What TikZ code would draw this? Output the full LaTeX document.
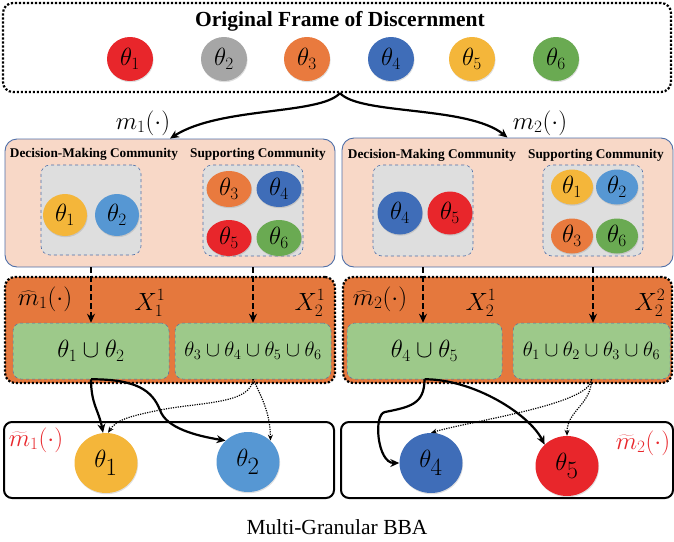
\documentclass[tikz,border=0pt]{standalone}
\usepackage{fontspec}
\setmainfont{Liberation Serif}
\usetikzlibrary{shapes.geometric,shadows,arrows.meta}

\definecolor{cRed}{HTML}{E8262B}
\definecolor{cGray}{HTML}{A6A6A6}
\definecolor{cOrange}{HTML}{E97A3E}
\definecolor{cBlue}{HTML}{3F6DB8}
\definecolor{cLblue}{HTML}{5697D3}
\definecolor{cYellow}{HTML}{F4B63A}
\definecolor{cGreen}{HTML}{6AAA52}
\definecolor{cPanel}{HTML}{F8D8C7}
\definecolor{cEdge}{HTML}{4F6FA8}
\definecolor{cComm}{HTML}{DEDEDE}
\definecolor{cBand}{HTML}{E5783D}
\definecolor{cGran}{HTML}{9DC98A}

\begin{document}
\begin{tikzpicture}[x=1pt,y=-1pt,
	elem/.style={ellipse,fill=#1,inner sep=0pt,
		drop shadow={opacity=0.25,shadow xshift=0.6pt,shadow yshift=-1.2pt}},
	frame/.style={draw,rectangle,rounded corners=10pt,line width=2.2pt,
		dash pattern=on 2.2pt off 1.8pt},
	panel/.style={draw=cEdge,fill=cPanel,rectangle,rounded corners=12pt,line width=0.9pt},
	comm/.style={draw=cEdge,fill=cComm,rectangle,rounded corners=9pt,dashed,line width=0.6pt},
	band/.style={frame,fill=cBand},
	gran/.style={draw=cEdge,fill=cGran,rectangle,rounded corners=8pt,dashed,line width=0.5pt},
	result/.style={draw,rectangle,rounded corners=8pt,line width=2pt},
	ctitle/.style={font=\bfseries\fontsize{13.3}{15}\selectfont},
	flow/.style={line width=2.2pt,-{Stealth[length=9pt,width=8pt]}},
	feed/.style={line width=2.4pt,dash pattern=on 6pt off 3pt,-{Stealth[length=9pt,width=8pt]}},
	weak/.style={line width=1.2pt,dash pattern=on 1.2pt off 1.2pt,-{Stealth[length=6pt,width=5pt]}}]
	\useasboundingbox (0,0) rectangle (674,541);
	
	% frame of discernment
	\node[frame,minimum width=668pt,minimum height=89pt] (frame) at (337,47.5) {};
	\node[font=\bfseries\fontsize{21.5}{24}\selectfont] (ftitle) at (340,21) {Original Frame of Discernment};
	\begin{scope}[every node/.append style={minimum width=46pt,minimum height=44pt,font=\fontsize{24}{26}\selectfont}]
		\node[elem=cRed] (t1) at (130,59) {$\theta_1$};
		\node[elem=cGray] (t2) at (224,59) {$\theta_2$};
		\node[elem=cOrange] (t3) at (307,59) {$\theta_3$};
		\node[elem=cBlue] (t4) at (391,59) {$\theta_4$};
		\node[elem=cYellow] (t5) at (472,59) {$\theta_5$};
		\node[elem=cGreen] (t6) at (556,59) {$\theta_6$};
	\end{scope}
	
	% two sources
	\node[panel,minimum width=330pt,minimum height=128pt] (panelL) at (170,203) {};
	\node[panel,minimum width=331pt,minimum height=129pt] (panelR) at (507.5,202.5) {};
	\node[ctitle] (dmtxtL) at (94,154) {Decision-Making Community};
	\node[ctitle] (sptxtL) at (258,154) {Supporting Community};
	\node[ctitle] (dmtxtR) at (432,155) {Decision-Making Community};
	\node[ctitle] (sptxtR) at (596,155) {Supporting Community};
	\node[comm,minimum width=100pt,minimum height=90pt] (dmL) at (91,210) {};
	\node[comm,minimum width=100pt,minimum height=91pt] (spL) at (253,210.5) {};
	\node[comm,minimum width=100pt,minimum height=91pt] (dmR) at (423,210.5) {};
	\node[comm,minimum width=100pt,minimum height=91pt] (spR) at (593,210.5) {};
	\begin{scope}[every node/.append style={font=\fontsize{27}{29}\selectfont}]
		\node[elem=cYellow,minimum width=44pt,minimum height=42pt] (aL1) at (65,215) {$\theta_1$};
		\node[elem=cLblue,minimum width=44pt,minimum height=42pt] (aL2) at (117,215) {$\theta_2$};
		\node[elem=cOrange,minimum width=45pt,minimum height=36pt] (sL3) at (229,189) {$\theta_3$};
		\node[elem=cBlue,minimum width=45pt,minimum height=36pt] (sL4) at (279,189) {$\theta_4$};
		\node[elem=cRed,minimum width=45pt,minimum height=36pt] (sL5) at (229,238) {$\theta_5$};
		\node[elem=cGreen,minimum width=45pt,minimum height=36pt] (sL6) at (279,238) {$\theta_6$};
		\node[elem=cBlue,minimum width=45pt,minimum height=43pt] (aR4) at (400,213) {$\theta_4$};
		\node[elem=cRed,minimum width=45pt,minimum height=43pt] (aR5) at (450,213) {$\theta_5$};
		\node[elem=cYellow,minimum width=42pt,minimum height=35pt] (sR1) at (572,187) {$\theta_1$};
		\node[elem=cLblue,minimum width=42pt,minimum height=35pt] (sR2) at (617,187) {$\theta_2$};
		\node[elem=cOrange,minimum width=42pt,minimum height=35pt] (sR3) at (572,236) {$\theta_3$};
		\node[elem=cGreen,minimum width=42pt,minimum height=35pt] (sR6) at (617,236) {$\theta_6$};
	\end{scope}
	\coordinate (split) at ([xshift=3pt]frame.south);
	\draw[flow] (split) .. controls +(-20,22) and +(50,-32) .. (panelL.north);
	\draw[flow] (split) .. controls +(20,22) and +(-40,-32) .. (panelR.north);
	\node[font=\fontsize{25}{27}\selectfont] (mL) at (143,123) {$m_1(\cdot)$};
	\node[font=\fontsize{25}{27}\selectfont] (mR) at (540,123) {$m_2(\cdot)$};
	
	% coarsened frames
	\node[band,minimum width=330pt,minimum height=106pt] (bandL) at (170,330) {};
	\node[band,minimum width=329pt,minimum height=106pt] (bandR) at (507.5,330) {};
	\node[gran,minimum width=156pt,minimum height=56pt,font=\fontsize{27}{29}\selectfont] (gL1) at (91,351) {$\theta_1\cup\theta_2$};
	\node[gran,minimum width=156pt,minimum height=56pt,font=\fontsize{21}{23}\selectfont] (gL2) at (253,351) {$\theta_3\cup\theta_4\cup\theta_5\cup\theta_6$};
	\node[gran,minimum width=155pt,minimum height=56pt,font=\fontsize{27}{29}\selectfont] (gR1) at (424.5,351) {$\theta_4\cup\theta_5$};
	\node[gran,minimum width=157pt,minimum height=56pt,font=\fontsize{21}{23}\selectfont] (gR2) at (591.5,351) {$\theta_1\cup\theta_2\cup\theta_3\cup\theta_6$};
	\node[font=\fontsize{25}{27}\selectfont] (hL) at (45,299) {$\widehat{m}_1(\cdot)$};
	\node[font=\fontsize{25}{27}\selectfont] (hR) at (380,299) {$\widehat{m}_2(\cdot)$};
	\node[font=\fontsize{25}{27}\selectfont] (xL1) at (150,303) {$X_1^1$};
	\node[font=\fontsize{25}{27}\selectfont] (xL2) at (310,303) {$X_2^1$};
	\node[font=\fontsize{25}{27}\selectfont] (xR1) at (481,303) {$X_2^1$};
	\node[font=\fontsize{25}{27}\selectfont] (xR2) at (650,303) {$X_2^2$};
	\draw[feed] (dmL.south |- panelL.south) -- (dmL.south |- gL1.north);
	\draw[feed] (spL.south |- panelL.south) -- (spL.south |- gL2.north);
	\draw[feed] (dmR.south |- panelR.south) -- (dmR.south |- gR1.north);
	\draw[feed] (spR.south |- panelR.south) -- (spR.south |- gR2.north);
	
	% multi-granular BBA
	\node[result,minimum width=330pt,minimum height=76pt] (resL) at (169,460) {};
	\node[result,minimum width=332pt,minimum height=76pt] (resR) at (507,460) {};
	\begin{scope}[every node/.append style={minimum width=63pt,minimum height=60pt,font=\fontsize{36}{38}\selectfont}]
		\node[elem=cYellow] (bL1) at (106,463) {$\theta_1$};
		\node[elem=cLblue] (bL2) at (248,462) {$\theta_2$};
		\node[elem=cBlue] (bR4) at (431,463) {$\theta_4$};
		\node[elem=cRed] (bR5) at (567,466) {$\theta_5$};
	\end{scope}
	\node[text=cRed,font=\fontsize{25}{27}\selectfont] (tL) at (36,440) {$\widetilde{m}_1(\cdot)$};
	\node[text=cRed,font=\fontsize{25}{27}\selectfont] (tR) at (643,443) {$\widetilde{m}_2(\cdot)$};
	
	\draw[flow] (gL1.south) .. controls +(0,25) and +(-4,-22) .. ([xshift=-3pt]bL1.north);
	\draw[flow] (gL1.south) .. controls +(45,0) and +(-8,-20) .. (160,410)
		.. controls +(6,18) and +(-30,-5) .. (bL2.north west);
	\draw[weak] (gL2.south) .. controls +(-2,25) and +(40,-8) .. (160,410)
		.. controls +(-35,7) and +(8,-12) .. ([xshift=2pt]bL1.north);
	\draw[weak] (gL2.south) .. controls +(10,20) and +(0,-25) .. (bL2.north east);
	\draw[flow] (gR1.south) .. controls +(0,25) and +(25,-5) .. (385,412)
		.. controls +(-12,2) and +(-22,0) .. (bR4.west);
	\draw[flow] (gR1.south) .. controls +(50,0) and +(-15,-30) .. (bR5.north west);
	\draw[weak] (gR2.south) .. controls +(0,25) and +(40,-12) .. (bR4.north);
	\draw[weak] (gR2.south) .. controls +(0,25) and +(0,-25) .. (bR5.north);
	
	\node[font=\fontsize{21.5}{24}\selectfont] (caption) at (337,527) {Multi-Granular BBA};
\end{tikzpicture}
\end{document}
